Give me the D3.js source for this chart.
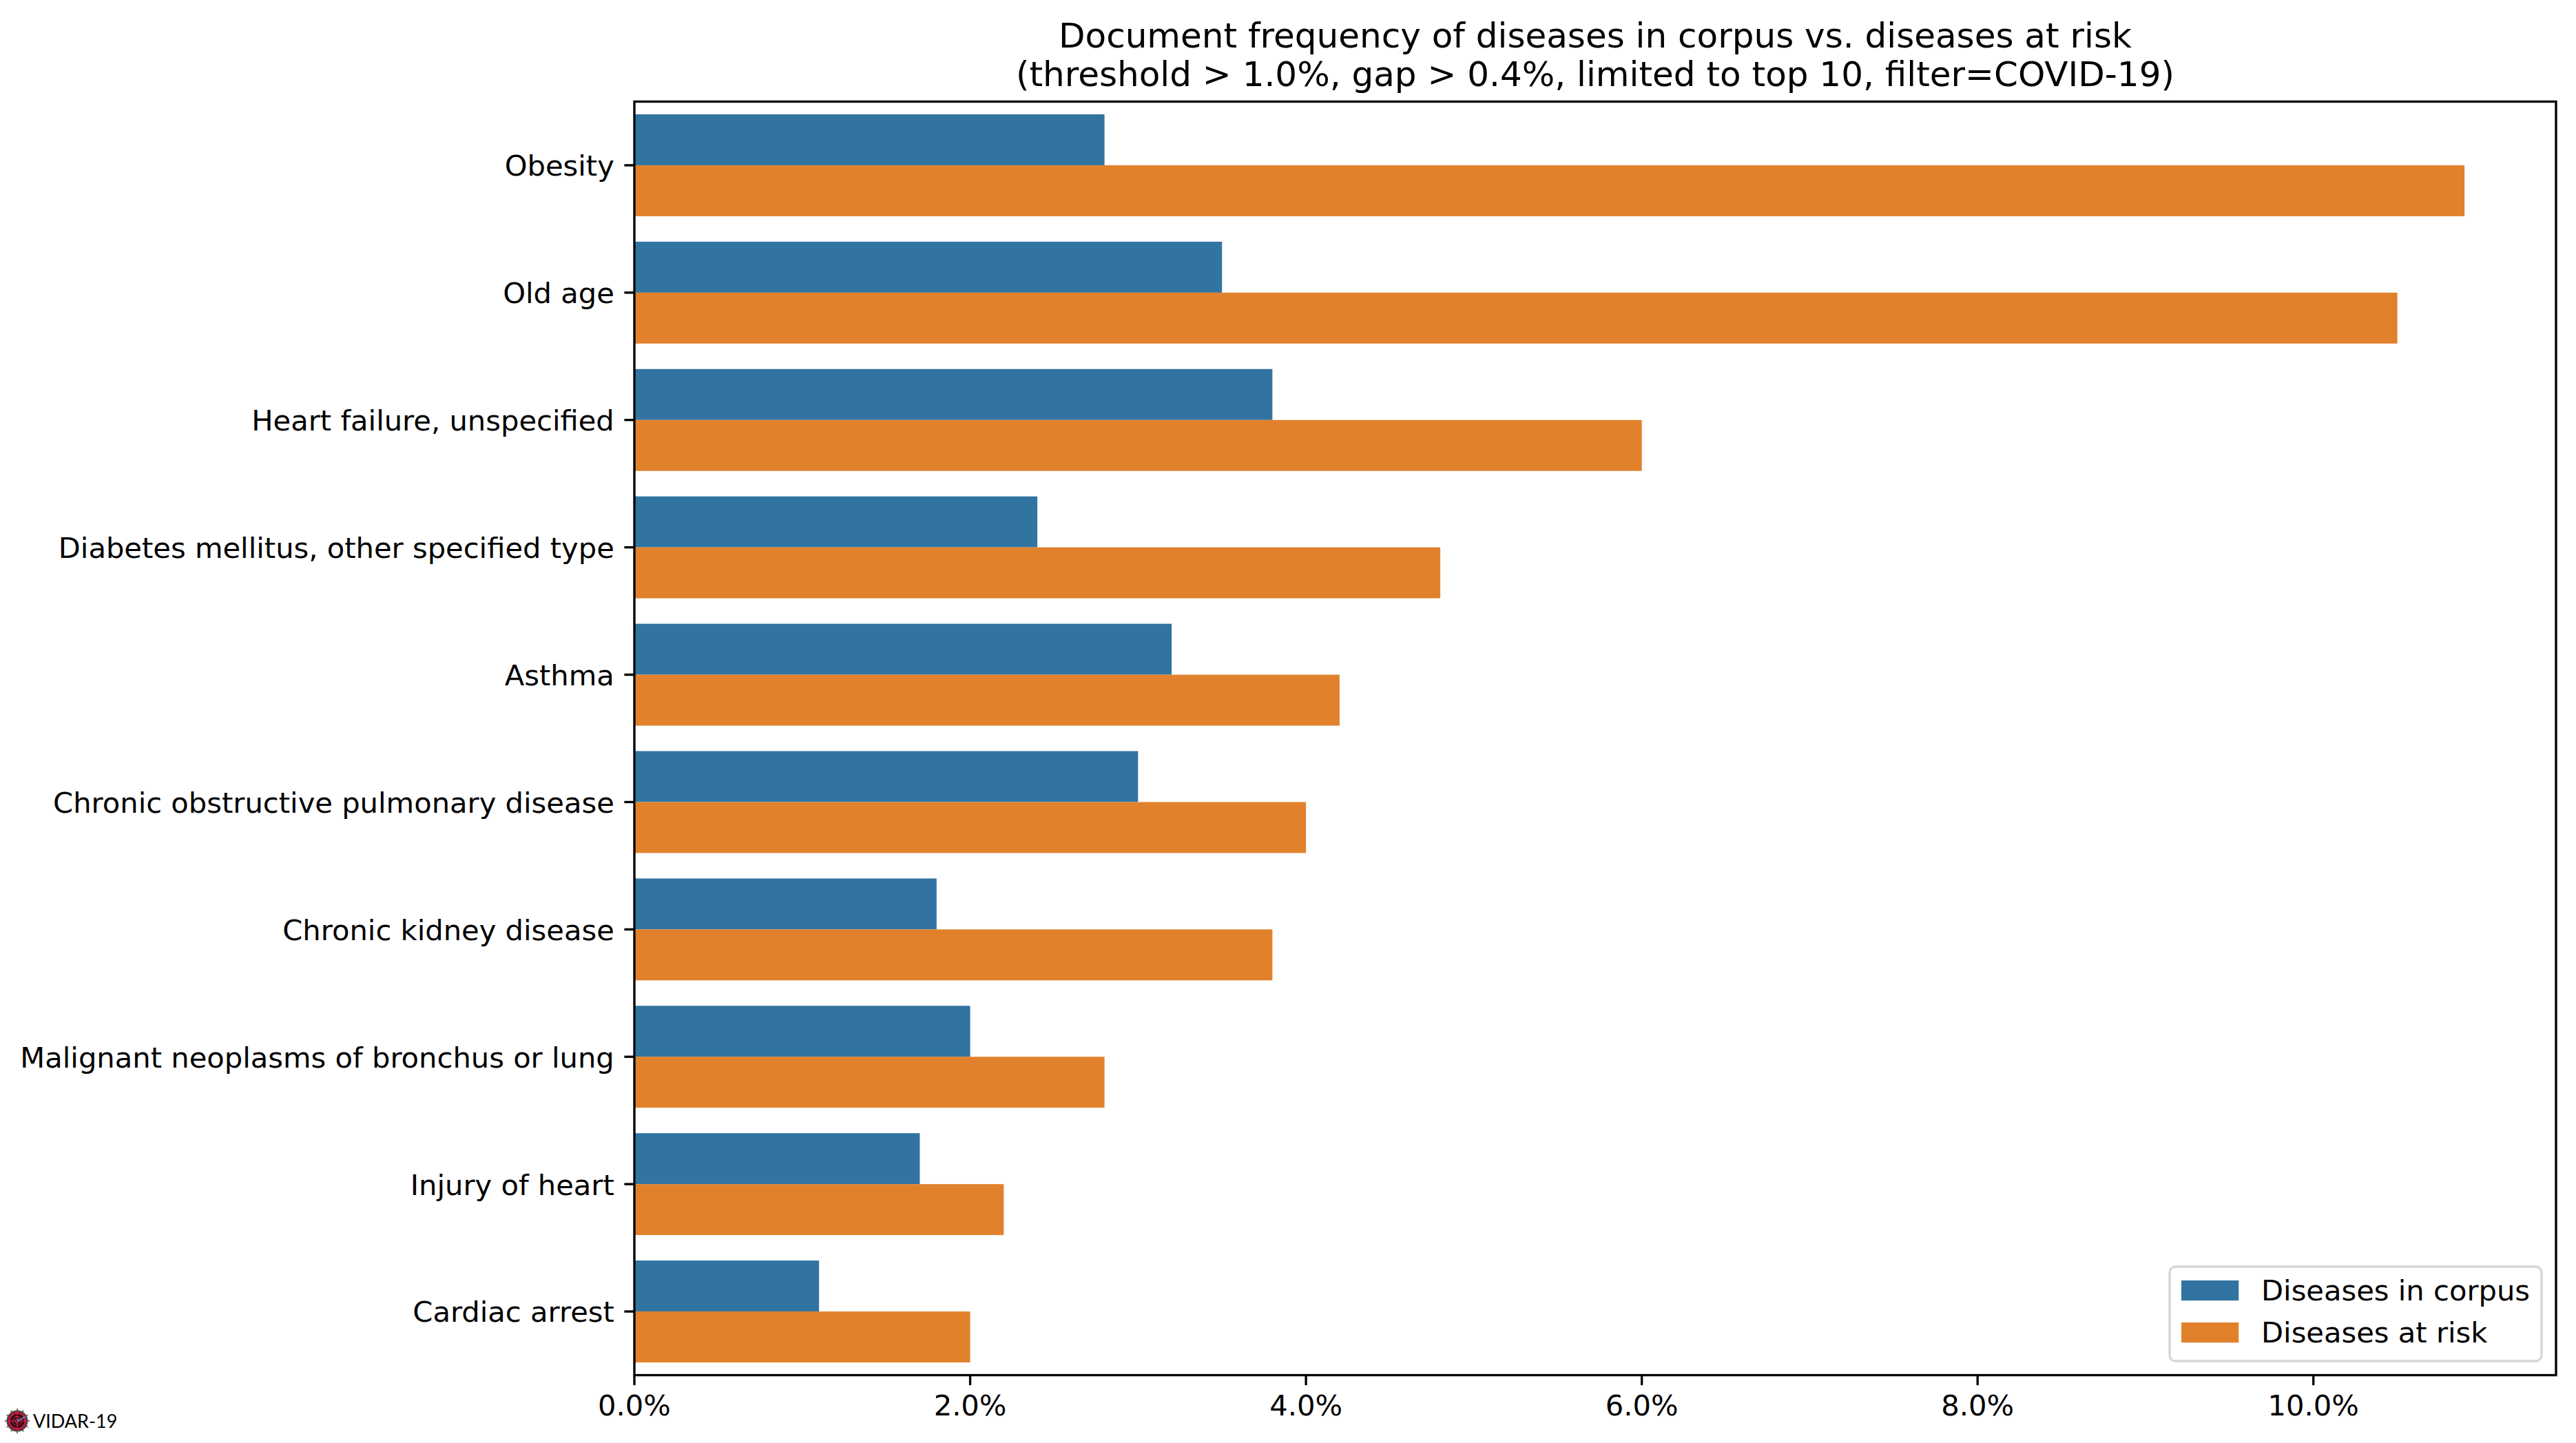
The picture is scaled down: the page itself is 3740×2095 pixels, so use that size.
<!DOCTYPE html>
<html>
<head>
<meta charset="utf-8">
<script src="https://d3js.org/d3.v7.min.js"></script>
<style>
  html, body { margin: 0; padding: 0; background: #fff; }
  svg { display: block; }
  text { font-family: "DejaVu Sans", sans-serif; fill: #000; }
</style>
</head>
<body>
<script>
const width = 3740, height = 2095;

const diseases = [
  "Obesity",
  "Old age",
  "Heart failure, unspecified",
  "Diabetes mellitus, other specified type",
  "Asthma",
  "Chronic obstructive pulmonary disease",
  "Chronic kidney disease",
  "Malignant neoplasms of bronchus or lung",
  "Injury of heart",
  "Cardiac arrest"
];
const corpusValues = [2.8, 3.5, 3.8, 2.4, 3.2, 3.0, 1.8, 2.0, 1.7, 1.1];
const riskValues = [10.9, 10.5, 6.0, 4.8, 4.2, 4.0, 3.8, 2.8, 2.2, 2.0];
const seriesNames = ["Diseases in corpus", "Diseases at risk"];
const seriesColors = ["#3274a1", "#e1812c"];
const xTickValues = [0, 2, 4, 6, 8, 10];
const titleLines = [
  "Document frequency of diseases in corpus vs. diseases at risk",
  "(threshold > 1.0%, gap > 0.4%, limited to top 10, filter=COVID-19)"
];

const plotLeft = 921, plotRight = 3711, plotTop = 147.5, plotBottom = 1996.5;
const lineW = 3.33, tickLen = 14.6, tickPad = 14.6;
const tickFont = 41.67, titleFont = 50;

const svg = d3.select("body").append("svg")
  .attr("width", width)
  .attr("height", height)
  .attr("viewBox", [0, 0, width, height]);

const x = d3.scaleLinear()
  .domain([0, d3.max(riskValues) * 1.05])
  .range([plotLeft, plotRight]);

const y = d3.scaleBand()
  .domain(diseases)
  .range([plotTop, plotBottom]);

// seaborn style: the two bars fill the middle 80% of each category
const ySeries = d3.scaleBand()
  .domain(seriesNames)
  .range([y.step() * 0.1, y.step() * 0.9]);

const rows = diseases.map((name, i) => ({
  name,
  values: [corpusValues[i], riskValues[i]]
}));

const groups = svg.append("g").selectAll("g")
  .data(rows)
  .join("g")
  .attr("transform", d => `translate(0,${y(d.name)})`);

groups.selectAll("rect")
  .data(d => d.values.map((v, i) => ({ v, i })))
  .join("rect")
  .attr("x", x(0))
  .attr("y", d => ySeries(seriesNames[d.i]))
  .attr("width", d => x(d.v) - x(0))
  .attr("height", ySeries.bandwidth())
  .attr("fill", d => seriesColors[d.i]);

const xAxis = d3.axisBottom(x)
  .tickValues(xTickValues)
  .tickFormat(d => d.toFixed(1) + "%")
  .tickSize(tickLen)
  .tickPadding(tickPad)
  .offset(0);

const yAxis = d3.axisLeft(y)
  .tickSize(tickLen)
  .tickPadding(tickPad)
  .offset(0);

const gx = svg.append("g")
  .attr("transform", `translate(0,${plotBottom})`)
  .call(xAxis);
const gy = svg.append("g")
  .attr("transform", `translate(${plotLeft},0)`)
  .call(yAxis);

[gx, gy].forEach(g => {
  g.select(".domain").remove();
  g.selectAll(".tick line").attr("stroke", "#000").attr("stroke-width", lineW);
  g.selectAll(".tick text")
    .attr("font-size", tickFont)
    .attr("font-family", "DejaVu Sans");
});
// y labels sit a touch lower than d3's .32em puts them
gy.selectAll(".tick text").attr("dy", "0.37em");

// frame on top of the bars
svg.append("rect")
  .attr("x", plotLeft)
  .attr("y", plotTop)
  .attr("width", plotRight - plotLeft)
  .attr("height", plotBottom - plotTop)
  .attr("fill", "none")
  .attr("stroke", "#000")
  .attr("stroke-width", lineW);

svg.append("g").selectAll("text")
  .data(titleLines)
  .join("text")
  .attr("x", (plotLeft + plotRight) / 2)
  .attr("y", (d, i) => 69 + i * 56)
  .attr("text-anchor", "middle")
  .attr("font-size", titleFont)
  .text(d => d);

// legend
const legendBox = { x: 3150, y: 1839, w: 540, h: 137 };
const legend = svg.append("g");
legend.append("rect")
  .attr("x", legendBox.x)
  .attr("y", legendBox.y)
  .attr("width", legendBox.w)
  .attr("height", legendBox.h)
  .attr("rx", 8.3)
  .attr("fill", "#fff")
  .attr("fill-opacity", 0.8)
  .attr("stroke", "#ccc")
  .attr("stroke-opacity", 0.8)
  .attr("stroke-width", lineW);

const legendRow = d3.scalePoint()
  .domain(seriesNames)
  .range([1859, 1920]);

const legendItems = legend.selectAll("g")
  .data(seriesNames)
  .join("g")
  .attr("transform", d => `translate(${legendBox.x + 17},${legendRow(d)})`);

legendItems.append("rect")
  .attr("width", 83.3)
  .attr("height", 29.2)
  .attr("fill", (d, i) => seriesColors[i]);

legendItems.append("text")
  .attr("x", 116)
  .attr("y", 29.2)
  .attr("font-size", tickFont)
  .text(d => d);

// VIDAR-19 badge, bottom left
const badge = svg.append("g").attr("transform", "translate(25,2063)");
const spikeAngles = d3.range(0, 360, 30);
badge.selectAll("line.spike")
  .data(spikeAngles)
  .join("line")
  .attr("class", "spike")
  .attr("x1", d => 14 * Math.cos(d * Math.PI / 180))
  .attr("y1", d => 14 * Math.sin(d * Math.PI / 180))
  .attr("x2", d => 18 * Math.cos(d * Math.PI / 180))
  .attr("y2", d => 18 * Math.sin(d * Math.PI / 180))
  .attr("stroke", "#777")
  .attr("stroke-width", 2);
badge.append("circle").attr("r", 15.5).attr("fill", "#444");
badge.append("circle").attr("r", 13.5).attr("fill", "#b5183a");
badge.append("circle").attr("r", 10).attr("fill", "#1a0c10");
badge.append("circle").attr("r", 6.5).attr("fill", "none").attr("stroke", "#c41e42").attr("stroke-width", 1.3);
badge.append("circle").attr("r", 3).attr("fill", "none").attr("stroke", "#c41e42").attr("stroke-width", 1.3);
badge.append("line").attr("x1", -14).attr("x2", 14).attr("stroke", "#d3264c").attr("stroke-width", 1.2);
badge.append("line").attr("y1", -14).attr("y2", 14).attr("stroke", "#d3264c").attr("stroke-width", 1.2);
badge.append("line").attr("x2", 12).attr("y2", -6).attr("stroke", "#4aa3d8").attr("stroke-width", 1.4);

svg.append("text")
  .attr("x", 48)
  .attr("y", 2073)
  .attr("font-size", 27)
  .style("font-family", "Lato, sans-serif")
  .text("VIDAR-19");
</script>
</body>
</html>
